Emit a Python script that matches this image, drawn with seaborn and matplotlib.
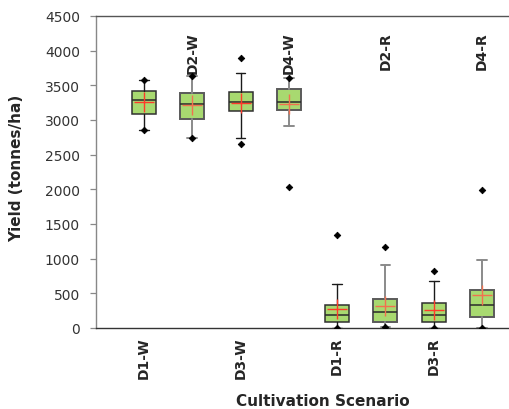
import matplotlib
matplotlib.use("Agg")
import matplotlib.pyplot as plt
import matplotlib.transforms as mtransforms
import numpy as np
import pandas as pd
import seaborn as sns

# Yield summary statistics per cultivation scenario (tonnes/ha)
scenarios = ["D1-W", "D2-W", "D3-W", "D4-W", "D1-R", "D2-R", "D3-R", "D4-R"]
q1 = [3085, 3015, 3130, 3150, 82, 82, 82, 155]
median = [3285, 3225, 3255, 3265, 192, 231, 192, 327]
q3 = [3420, 3395, 3410, 3445, 332, 418, 356, 544]
whisker_low = [2850, 2740, 2735, 2920, 0, 19, 0, 0]
whisker_high = [3577, 3630, 3673, 3610, 630, 904, 682, 985]
minimum = [2850, 2740, 2658, 2029, 0, 19, 0, 0]
maximum = [3577, 3630, 3890, 3610, 1346, 1168, 822, 1995]
mean = [3260, 3216, 3245, 3226, 274, 317, 255, 472]

y_ticks = [0, 500, 1000, 1500, 2000, 2500, 3000, 3500, 4000, 4500]

sns.set_style("white")
plt.rcParams["font.family"] = ["DejaVu Sans"]

fig = plt.figure(figsize=(5.09, 4.10), dpi=100)
ax = fig.add_axes([96 / 509, 1 - 329 / 410, 413 / 509, 312 / 410])

positions = np.arange(len(scenarios))
stats = []
for i, name in enumerate(scenarios):
    stats.append(dict(label=name, q1=q1[i], med=median[i], q3=q3[i],
                      whislo=whisker_low[i], whishi=whisker_high[i],
                      fliers=[], mean=mean[i]))

box_fill = "#a8d970"
art = ax.bxp(stats, positions=positions, widths=0.5, capwidths=0.2,
             patch_artist=True, showfliers=False, showmeans=False,
             manage_ticks=False)

for i in range(len(scenarios)):
    even = i % 2 == 1
    edge = "#5a5a5a" if even else "#303030"
    wcol = "#8a8a8a" if even else "#1a1a1a"
    box = art["boxes"][i]
    box.set_facecolor(box_fill)
    box.set_edgecolor(edge)
    box.set_linewidth(1.4 if even else 1.1)
    art["medians"][i].set_color("#2a2a2a")
    art["medians"][i].set_linewidth(1.1)
    for w in art["whiskers"][2 * i:2 * i + 2]:
        w.set_color(wcol)
        w.set_linewidth(1.4 if even else 1.0)
    for c in art["caps"][2 * i:2 * i + 2]:
        c.set_color(wcol)
        c.set_linewidth(1.4 if even else 1.0)

# Minimum / maximum markers and mean crosses
extremes = pd.DataFrame({
    "pos": np.concatenate([positions, positions]),
    "value": minimum + maximum,
})
sns.scatterplot(data=extremes, x="pos", y="value", marker="D", s=11,
                color="black", edgecolor="black", linewidth=0.6, ax=ax,
                zorder=5, legend=False)

means = pd.DataFrame({"pos": positions, "value": mean})
mean_colors = ["#ff3a2a" if i % 2 == 0 else "#f2704f" for i in range(len(scenarios))]
for i, row in means.iterrows():
    sns.scatterplot(x=[row["pos"]], y=[row["value"]], marker="+", s=200,
                    color=mean_colors[i], linewidth=1.0, ax=ax, zorder=6,
                    legend=False)

ax.set_xlim(-0.995, 7.56)
ax.set_ylim(0, 4500)
ax.set_yticks(y_ticks)
ax.set_yticklabels([str(t) for t in y_ticks], fontsize=10, color="#333333")
ax.tick_params(axis="y", direction="out", length=4, width=0.9,
               color="#888888", pad=7.5, left=True)

# Odd scenarios labelled beneath the axis, even ones near the top
ax.set_xticks(positions[0::2])
ax.set_xticklabels(scenarios[0::2], rotation=90, fontsize=10,
                   fontweight="bold", va="top", ha="center")
ax.tick_params(axis="x", length=0, pad=6)
top_tf = mtransforms.blended_transform_factory(ax.transData, ax.transAxes)
for p in positions[1::2]:
    ax.text(p, 0.952, scenarios[p], transform=top_tf, rotation=90,
            ha="center", va="top", fontsize=10, fontweight="bold")

ax.set_xlabel("Cultivation Scenario", fontsize=11, fontweight="bold")
ax.xaxis.set_label_coords((323 - 96) / 413, -(401 - 329) / 312, transform=ax.transAxes)
ax.xaxis.label.set_va("center")
ax.set_ylabel("Yield (tonnes/ha)", fontsize=11, fontweight="bold")
ax.yaxis.set_label_coords(-(96 - 17) / 413, (329 - 168) / 312, transform=ax.transAxes)
ax.yaxis.label.set_va("center")

for side in ["top", "left", "bottom"]:
    ax.spines[side].set_visible(True)
ax.spines["right"].set_visible(False)
ax.spines["left"].set_color("#888888")
ax.spines["top"].set_color("#555555")
ax.spines["bottom"].set_color("#333333")
for s in ax.spines.values():
    s.set_linewidth(1.0)

fig.savefig("out.png", dpi=100)
